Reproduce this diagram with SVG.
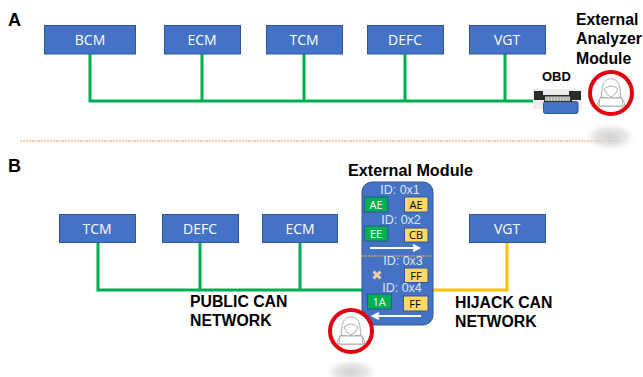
<svg xmlns="http://www.w3.org/2000/svg" width="643" height="377" viewBox="0 0 643 377">
<style>
.n{fill:#4472c4;stroke:#2f5597;stroke-width:1}
.nt{font:14px "Open Sans","Liberation Sans",sans-serif;fill:#fff;text-anchor:middle}
.b{font:bold 15.800px "Liberation Sans",Arial,sans-serif;fill:#000}
.id{font:12.500px "Liberation Sans",Arial,sans-serif;fill:#dfe6f5;text-anchor:middle}
.g{fill:#00b050;stroke:#2f5597;stroke-width:1}
.y{fill:#ffd966;stroke:#2f5597;stroke-width:1}
.t{font:11px "Open Sans","Liberation Sans",sans-serif;text-anchor:middle}
.gl{fill:none;stroke:#00b050;stroke-width:3}
.ar{fill:none;stroke:#fff;stroke-width:2}
.h{fill:#fff;stroke:#999;stroke-width:.8}
</style>
<defs>
<radialGradient id="sh"><stop offset="0" stop-color="#c8c8c8" stop-opacity=".85"/><stop offset=".6" stop-color="#d8d8d8" stop-opacity=".6"/><stop offset="1" stop-color="#eee" stop-opacity="0"/></radialGradient>
<g id="hacker">
<circle r="21" fill="#fff" stroke="#e3000f" stroke-width="4"/>
<path class="h" d="M-9-3C-9-18 9-18 9-3L10 5L-10 5Z"/>
<path class="h" d="M-7-4Q0-10 7-4Q5 2 0 4Q-5 2-7-4Z"/>
<path class="h" d="M-9 4Q-13 6-14 13L14 13Q13 6 9 4Q0 8-9 4Z"/>
<path class="h" d="M-11 5H11L12 13H-12Z"/>
</g>
</defs>
<text class="b" x="8" y="26" style="font-size:18px">A</text>
<text class="b" x="8" y="172" style="font-size:18px">B</text>
<path d="M20 141H619" stroke="#ed7d31" stroke-width="1" stroke-dasharray="2 1" fill="none" opacity=".8"/>

<g id="connectors">
<path class="gl" d="M90 54V101H535M202 54V101M304 54V101M405 54V101M505 54V101"/>
<path class="gl" d="M98 242V290H362M200 242V290M300 242V290"/>
<path d="M433 290H507V242" fill="none" stroke="#ffc000" stroke-width="3"/>
</g>

<g id="bcm"><rect class="n" x="44.500" y="25.500" width="91" height="28.500"/><text class="nt" x="90" y="45">BCM</text></g>
<g id="ecm-a"><rect class="n" x="164.500" y="25.500" width="76" height="28.500"/><text class="nt" x="202" y="45">ECM</text></g>
<g id="tcm-a"><rect class="n" x="266.500" y="25.500" width="76" height="28.500"/><text class="nt" x="304" y="45">TCM</text></g>
<g id="defc-a"><rect class="n" x="367.500" y="25.500" width="76" height="28.500"/><text class="nt" x="405" y="45">DEFC</text></g>
<g id="vgt-a"><rect class="n" x="469.500" y="25.500" width="76" height="28.500"/><text class="nt" x="507" y="45">VGT</text></g>

<g id="obd">
<text class="b" x="542" y="81" style="font-size:13px">OBD</text>
<rect x="533" y="89" width="49" height="20" fill="#eee"/>
<rect x="543.500" y="101.500" width="34.500" height="12" rx="2" fill="#4472c4" stroke="#2f5597"/>
<path d="M534 91H543V95H569V91H581V100H572V102H544V100H534Z" fill="#2b2b2b"/>
<rect x="545" y="96.500" width="25" height="4.500" fill="#d0d4d0"/>
<path d="M547 97V101M550 97V101M553 97V101M556 97V101M559 97V101M562 97V101M565 97V101M568 97V101" stroke="#7a7a7a" stroke-width=".8"/>
</g>
<g id="external-analyzer">
<text class="b" x="576" y="25">External</text>
<text class="b" x="576" y="44">Analyzer</text>
<text class="b" x="576" y="64">Module</text>
<ellipse cx="610" cy="137" rx="26" ry="14" fill="url(#sh)"/>
<use href="#hacker" x="611" y="93"/>
</g>

<g id="tcm-b"><rect class="n" x="59.500" y="214.500" width="76" height="28"/><text class="nt" x="97" y="234">TCM</text></g>
<g id="defc-b"><rect class="n" x="162.500" y="214.500" width="76" height="28"/><text class="nt" x="200" y="234">DEFC</text></g>
<g id="ecm-b"><rect class="n" x="262.500" y="214.500" width="75" height="28"/><text class="nt" x="300" y="234">ECM</text></g>
<g id="vgt-b"><rect class="n" x="469.500" y="214.500" width="76" height="28"/><text class="nt" x="507" y="234">VGT</text></g>

<g id="external-module">
<text class="b" x="348" y="176" style="font-size:16.200px">External Module</text>
<rect class="n" x="362" y="182" width="71" height="143" rx="10"/>
<text class="id" x="400" y="194">ID: 0x1</text>
<rect class="g" x="364.500" y="197" width="23.500" height="15"/><text class="t" x="376" y="208.500" fill="#fff">AE</text>
<rect class="y" x="404.500" y="197" width="23.500" height="15"/><text class="t" x="416" y="208.500">AE</text>
<text class="id" x="401" y="224">ID: 0x2</text>
<rect class="g" x="364.500" y="226" width="23.500" height="15"/><text class="t" x="376" y="237.500" fill="#fff">EE</text>
<rect class="y" x="404.500" y="228" width="23.500" height="14"/><text class="t" x="416" y="239">CB</text>
<path class="ar" d="M370 248H418M413 245L419 248L413 251"/>
<path d="M362 256H432" stroke="#ffc000" stroke-dasharray="2 1" fill="none"/>
<text class="id" x="403" y="265">ID: 0x3</text>
<path d="M373.500 271.500L380.500 278.500M380.500 271.500L373.500 278.500" stroke="#f8cbad" stroke-width="3" fill="none"/>
<rect class="y" x="404.500" y="268" width="23.500" height="14.500"/><text class="t" x="416" y="279.500">FF</text>
<text class="id" x="402" y="292">ID: 0x4</text>
<rect class="g" x="367.500" y="294" width="24" height="15"/><text class="t" x="379" y="305.500" fill="#fff">1A</text>
<rect class="y" x="403.500" y="296" width="24.500" height="15"/><text class="t" x="415" y="307.500">FF</text>
<path class="ar" d="M421 316H374M379 313L373 316L379 319"/>
</g>

<g id="public-label"><text class="b" x="190" y="307">PUBLIC CAN</text><text class="b" x="190" y="326">NETWORK</text></g>
<g id="hijack-label"><text class="b" x="455" y="308">HIJACK CAN</text><text class="b" x="455" y="327">NETWORK</text></g>

<g id="attacker">
<ellipse cx="351" cy="372" rx="26" ry="13" fill="url(#sh)"/>
<use href="#hacker" x="351" y="331"/>
</g>
</svg>
